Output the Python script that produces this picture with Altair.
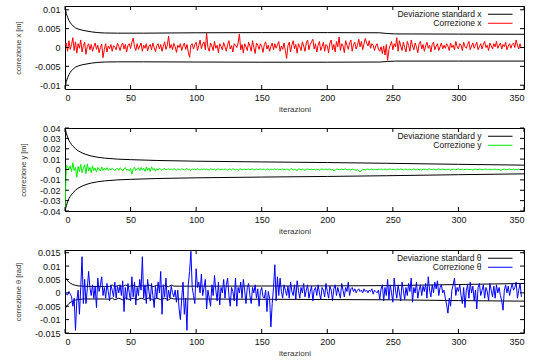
import altair as alt
import pandas as pd

# ---------------- data ----------------
iter_ticks = [0, 50, 100, 150, 200, 250, 300, 350]

# Panel 1: correction x, in mm, iterations 0..348
corr_x_mm = [
    0.5, 1.2, -1.0, 1.8, -0.5, 0.8, 2.6, -0.8, 1.5, -1.5,
    1.0, -0.2, 2.0, -1.2, 0.5, 1.4, -1.8, 0.3, 1.0, -0.6,
    0.8, -1.0, 0.2, 1.2, -0.5, 0.6, -1.4, 0.0, 0.9, -2.7,
    -0.5, 1.0, -1.2, 0.4, -0.3, 0.8, -1.0, 0.5, 0.2, -0.6,
    1.1, 0.3, -0.8, 0.6, 1.2, -0.4, 0.8, -1.2, 0.5, 1.0,
    -0.3, 1.4, 2.5, 0.2, -0.8, 1.0, -0.5, 0.4, 1.2, -1.0,
    0.6, -0.2, 1.0, -0.9, 0.3, 0.8, -0.6, 1.2, 0.0, -1.1,
    0.5, 1.0, -0.4, 0.8, -1.0, 0.4, 1.5, -0.5, 0.6, 3.0,
    -0.2, 0.8, -0.6, 1.1, 0.2, -1.3, 0.6, 0.0, 1.0, -0.8,
    0.4, 1.2, -0.5, 0.8, -1.2, -2.6, 0.6, 1.0, -0.4, 0.8,
    1.4, -0.8, 0.5, 2.0, -0.3, 0.9, 1.5, -0.6, 3.8, 0.0,
    -1.0, 1.2, 0.4, -0.8, 1.6, -0.2, 0.6, -1.4, 1.0, 0.3,
    -0.6, 1.3, 0.2, -1.0, 0.8, 1.8, -0.4, 0.5, -1.2, 1.0,
    0.6, 0.0, 1.2, 3.6, -0.6, 0.8, -1.5, 1.0, 0.2, -0.8,
    1.4, 0.4, -1.0, 1.8, 0.0, -1.6, 1.2, 0.6, -0.5, 1.0,
    0.2, -1.3, 0.8, 1.5, -0.4, 0.6, -1.0, 0.3, 1.2, -0.6,
    1.0, -0.2, 0.7, 1.6, -1.0, 0.4, -0.5, 1.2, -0.8, -2.9,
    0.5, 1.4, -1.2, 0.6, 1.8, -0.3, 0.8, -1.5, 1.0, 0.2,
    -0.8, 1.5, 0.4, -1.0, 1.2, 2.0, -0.6, 0.8, 1.5, 2.2,
    -0.4, 1.0, -1.2, 0.6, 1.6, -0.8, 0.2, 1.4, -1.0, 0.8,
    0.4, -1.4, 1.2, 2.0, -0.6, 0.8, -1.2, 1.6, 0.2, 2.8,
    -0.8, 1.0, 0.4, -1.4, 1.8, 0.6, -0.5, 1.2, 2.0, -1.0,
    0.8, 1.4, -0.4, 0.6, 2.2, 0.2, 1.6, -0.6, 1.0, 2.4,
    1.2, 0.4, 1.8, -0.2, 1.0, 0.6, -0.8, 0.4, 1.0, -0.4,
    -1.0, 0.2, -1.6, 0.4, -2.0, 0.8, -3.4, -0.5, 0.6, 1.6,
    -0.6, 1.0, 0.2, 2.6, -1.0, 1.8, 0.4, -0.8, 1.4, 0.0,
    -1.2, 1.6, 0.6, -1.0, 2.0, 0.4, -0.6, 1.2, 0.2, -1.4,
    1.0, 1.6, -0.4, 0.8, -1.0, 0.4, 1.4, -0.2, 0.6, -1.2,
    0.8, 1.4, -0.6, 0.4, 1.0, -0.8, 0.2, 1.2, -0.4, 0.6,
    -0.2, 1.0, 0.4, -0.8, 1.2, 0.0, 0.6, -0.6, 1.6, 0.2,
    -0.4, 1.0, 0.6, -0.8, 1.4, 0.2, -0.2, 0.8, 1.6, -0.6,
    0.4, 1.2, -0.2, 0.6, 1.4, -0.6, 0.2, 1.0, -0.4, 0.8,
    1.6, 0.0, 0.6, -0.8, 1.2, 0.4, -0.4, 1.0, 0.2, 1.6,
    -0.2, 0.6, 1.2, -0.4, 0.8, 0.2, 1.4, -0.6, 0.4, 1.0,
    -0.2, 0.8, 1.2, 0.0, 2.0, 0.6, -0.4, 1.0, -0.2,
]
std_x_iter = [0, 1, 2, 3, 4, 5, 6, 8, 10, 13, 16, 20, 25, 30, 40, 60, 100,
              150, 200, 240, 246, 252, 300, 350]
std_x_up_mm = [10.8, 9.0, 8.0, 7.2, 6.6, 6.1, 5.8, 5.2, 4.9, 4.6, 4.4, 4.15,
               3.95, 3.85, 3.8, 3.8, 3.9, 3.95, 3.95, 3.9, 3.7, 3.6, 3.55, 3.5]
std_x_lo_mm = [-10.8, -9.0, -8.0, -7.2, -6.6, -6.1, -5.8, -5.2, -4.9, -4.6,
               -4.4, -4.15, -3.95, -3.85, -3.8, -3.8, -3.85, -3.9, -3.9,
               -3.85, -3.7, -3.6, -3.6, -3.6]

# Panel 2: correction y, in mm
corr_y_mm = [
    -38.0, 4.0, 3.0, 0.0, 3.5, -2.0, 6.5, -1.0, 2.0, -7.5,
    3.0, -2.0, 5.0, -3.0, 1.0, 4.5, -4.0, 5.5, -1.5, 2.0,
    -3.0, 3.5, -1.0, 1.5, -2.5, 2.0, 0.5, -1.5, 2.5, -1.0,
    1.2, -0.6, 1.8, -1.0, 0.8, -0.4, 1.4, 0.2, -1.2, 0.6,
    1.0, -0.8, 1.6, 0.4, -1.6, 0.8, 1.8, -0.6, 0.4, -1.4,
    1.0, -4.5, 0.8, 2.2, -1.0, 0.6, 1.6, -1.2, 2.0, -0.6,
    1.2, -1.8, 2.4, -0.8, 1.4, -2.0, 2.6, -0.4, 1.0, -1.6,
    0.8, -0.6, 1.2, 0.2, -0.8, 0.6, 1.0, -0.4, 0.2, 0.8,
    -0.2, 0.6, -0.6, 1.0, 0.0, -0.8, 0.6, 0.2, -0.4, 0.8,
    0.2, -0.6, 0.4, 1.0, -0.4, 0.2, -1.0, 0.6, 0.0, 0.4,
    -0.4, 0.8, 0.2, -0.6, 0.4, 0.0, 0.6, -0.2, 0.4, 0.0,
    -0.4, 0.6, 0.2, -0.2, 0.4, -0.8, 0.2, 0.6, -0.2, 0.0,
    0.4, -0.2, 0.6, 0.0, -0.6, 0.2, 0.4, -0.4, 0.8, 0.0,
    -0.2, 0.4, -1.0, 0.2, 0.6, -0.4, 0.0, 0.4, -0.2, 0.2,
    0.6, -0.4, 0.2, 0.8, -0.6, 0.0, 0.4, -0.2, 0.2, 0.6,
    -0.2, 0.4, 0.0, -0.6, 0.6, 0.2, -0.4, 0.4, 0.0, 0.2,
    0.6, -0.2, 0.4, 0.0, 0.2, -0.4, 0.6, 0.2, -0.2, 0.4,
    0.0, -0.6, 0.4, 0.8, -0.4, 0.2, 0.0, -1.2, 0.6, 0.2,
    -0.4, 0.4, 0.0, -0.8, 0.2, 0.6, -0.2, 0.0, 0.4, -0.2,
    0.2, -0.4, 0.4, 0.0, -0.6, 0.2, 0.6, -0.2, 0.0, 0.4,
    -0.2, 0.2, 0.6, -0.4, 0.0, -1.6, -0.6, 0.2, 0.4, -0.2,
    0.0, 0.4, -0.2, 0.2, 0.6, -0.4, 0.0, 0.2, -0.6, 0.4,
    0.0, -0.4, -0.8, 0.2, -1.2, -2.4, -0.6, 0.2, 0.0, -0.4,
    0.2, 0.4, -0.2, 0.0, 0.6, -0.4, 0.2, 0.0, -0.2, 0.4,
    0.0, 0.6, -0.2, 0.2, 0.4, -0.4, 0.0, 0.2, 0.6, -0.2,
    0.2, 0.0, -0.4, 0.4, 0.2, -0.2, 0.6, 0.0, -0.6, 0.2,
    0.4, -0.2, 0.0, 0.4, -0.4, 0.2, 0.6, -0.2, 0.0, 0.4,
    -0.2, 0.2, -0.6, 0.4, 0.0, 0.2, -0.4, 0.4, 0.6, 0.0,
    -0.2, 0.4, 0.0, -0.4, 0.2, 0.6, 0.0, -0.2, 0.4, 0.2,
    -0.4, 0.2, 0.0, 0.4, -0.6, 0.2, 0.4, 0.0, -0.2, 0.2,
    0.6, -0.2, 0.0, 0.4, -0.4, 0.2, 0.0, 0.4, -0.2, 0.2,
    0.0, -0.6, 0.2, 0.4, 0.0, -0.2, 0.4, 0.2, -0.4, 0.0,
    0.2, 0.6, -0.2, 0.0, 0.4, -0.4, 0.2, 0.0, 0.4, -0.2,
    0.0, 0.2, -0.8, -0.4, 0.2, 0.4, 0.0, -0.2, 0.2, 0.6,
    -0.2, 0.0, 0.4, -0.4, 0.2, 0.0, 0.4, -0.2, 0.2,
]
std_y_iter = [0, 1, 2, 3, 4, 5, 6, 8, 10, 13, 16, 20, 25, 30, 40, 50, 70,
              100, 150, 200, 245, 300, 350]
std_y_up_mm = [40.0, 35.0, 31.0, 28.0, 26.0, 24.0, 22.5, 20.0, 18.0, 16.0,
               14.5, 13.0, 11.8, 11.0, 10.0, 9.5, 8.7, 8.0, 7.3, 6.7, 6.0,
               5.0, 4.2]
std_y_lo_mm = [-40.0, -35.0, -31.0, -28.0, -26.0, -24.0, -22.5, -20.0, -18.0,
               -16.0, -14.5, -13.0, -11.8, -11.0, -10.0, -9.5, -8.7, -8.0,
               -7.3, -6.7, -6.0, -5.0, -4.2]

# Panel 3: correction theta, in mrad
corr_t_mrad = [
    0.5, -0.5, -0.8, 0.5, -0.5, -1.5, -5.0, -2.0, -14.0, -3.0,
    1.0, -8.0, 2.0, 13.5, -4.0, 5.0, -4.0, 1.5, 8.0, 2.0,
    -1.0, 3.0, -2.0, 2.5, -5.5, 5.5, 0.5, 3.0, 6.0, -1.0,
    2.0, -2.0, 3.5, 0.5, -3.0, 3.0, 1.0, -1.5, 4.0, -2.0,
    2.5, 0.0, 3.0, -1.0, 4.5, -7.0, 2.0, -2.5, 3.5, 0.0,
    -3.0, 6.0, -1.5, 4.0, -4.5, 2.0, -1.0, 5.0, 1.0, 13.5,
    -2.0, 3.0, -4.0, 5.0, 0.5, -3.0, 3.5, -1.0, -5.5, 2.5,
    -2.0, 4.0, 0.0, 8.0, -8.0, 3.0, -1.5, 5.5, -3.0, 1.0,
    -2.0, 2.5, 0.0, -1.5, 1.0, -3.5, 1.0, -6.0, -10.0, -2.0,
    4.0, -8.0, -2.0, -14.0, 3.0, 8.0, 15.5, 2.0, -1.0, -4.0,
    9.0, 2.0, 4.0, 0.0, 7.0, -1.0, 2.0, 5.0, -6.0, 1.0,
    -2.0, -5.0, 3.0, -1.0, 6.5, 1.0, -3.0, 4.0, -4.5, 2.0,
    0.0, 5.0, -2.0, 3.0, 5.5, -1.0, -5.0, 2.0, 0.5, -3.0,
    5.5, -5.0, 2.0, 0.0, 4.0, -2.0, 5.0, 1.0, -4.0, 2.0,
    3.5, -1.0, -4.0, 2.0, 0.0, 3.0, -2.0, 1.5, -5.0, 0.5,
    2.0, -1.5, -2.0, 1.0, -7.0, 0.5, -2.0, -12.7, -4.0, 2.0,
    10.5, -3.0, 6.0, -1.0, 5.5, 0.5, -2.0, 3.0, 1.0, -1.0,
    2.5, -2.0, 4.0, 0.5, -1.0, 3.0, -2.5, 4.5, 1.0, -2.0,
    2.0, 0.0, 3.5, -1.5, 1.0, 3.0, -2.0, 0.5, 2.5, -3.0,
    1.0, 2.0, -1.0, 3.0, 0.0, -2.5, 2.0, 1.0, -1.5, 3.5,
    0.5, -2.0, 2.5, 1.0, -3.0, 1.5, 3.0, -1.0, 2.0, 0.0,
    -2.0, 3.5, 1.0, -1.5, 2.0, 0.5, 4.0, -1.0, 1.5, 2.0,
    0.5, 1.5, 0.0, 1.0, 1.5, 0.5, 1.0, 0.0, 1.5, 0.5,
    1.0, 0.0, 1.0, 0.5, 1.5, -0.5, 1.0, 0.5, 0.0, 1.0,
    -2.5, 1.5, 3.0, -3.0, 2.0, -1.0, 5.0, -2.5, 3.0, 0.0,
    -3.5, 5.5, 1.0, -2.0, 3.0, 0.0, -3.0, 4.0, 1.0, -2.5,
    2.0, -1.0, 3.5, 0.5, 5.5, -3.5, 2.0, 0.0, 4.0, -2.0,
    1.0, 3.0, -1.0, 2.5, 0.5, 3.5, -2.0, 6.0, 1.0, -1.5,
    3.0, 0.0, 4.0, 1.5, 4.5, -1.0, 2.0, 3.0, 0.0, 1.0,
    -2.0, -4.5, -7.6, -2.0, -5.0, 1.0, 3.0, 5.5, -1.0, 2.0,
    0.5, 3.0, -1.0, -4.0, 2.0, -5.5, 1.0, 3.0, -2.0, 4.0,
    0.0, 2.5, -3.0, 1.0, -6.0, 2.0, 3.5, -1.0, 1.0, 3.0,
    -2.0, 2.0, 0.5, -3.0, 3.5, 1.0, -1.5, 2.5, -2.0, 3.0,
    0.0, 2.0, -1.0, -3.0, -6.5, 1.0, 3.0, 0.0, 2.5, -1.0,
    1.5, 3.5, 1.0, 2.0, 4.0, -2.0, 1.0, 3.5, -1.5,
]
std_t_iter = [0, 1, 2, 3, 4, 6, 8, 10, 14, 20, 30, 34, 36, 38, 41, 44, 46,
              49, 52, 55, 58, 61, 64, 67, 70, 73, 76, 79, 81, 83, 100, 150,
              200, 248, 300, 350]
std_t_up_mrad = [6.0, 5.2, 4.5, 4.0, 3.6, 3.1, 2.8, 2.6, 2.5, 2.4, 2.4, 2.4,
                 2.9, 2.3, 2.8, 2.3, 2.9, 2.4, 2.8, 2.3, 2.7, 2.4, 2.9, 2.3,
                 2.8, 2.4, 2.7, 2.3, 2.9, 2.5, 2.5, 2.55, 2.6, 2.7, 3.1, 3.5]
std_t_lo_mrad = [-6.0, -5.2, -4.5, -4.0, -3.6, -3.1, -2.7, -2.5, -2.3, -2.3,
                 -2.3, -2.4, -1.9, -2.6, -2.0, -2.6, -1.9, -2.5, -2.0, -2.6,
                 -2.0, -2.5, -1.9, -2.6, -2.0, -2.5, -2.0, -2.6, -2.0, -2.3,
                 -2.3, -2.4, -2.5, -2.6, -2.9, -3.1]

yt_x = [-0.01, -0.005, 0, 0.005, 0.01]
yt_y = [-0.04, -0.03, -0.02, -0.01, 0, 0.01, 0.02, 0.03, 0.04]
yt_t = [-0.015, -0.01, -0.005, 0, 0.005, 0.01, 0.015]

W, H = 459, 83
FONT = "Liberation Sans"
TICK = 4


def panel(corr, s_iter, s_up, s_lo, names, col, ydom, yvals, ytitle):
    corr_df = pd.DataFrame({
        "iter": list(range(len(corr))),
        "val": [v / 1000.0 for v in corr],
        "serie": names[1], "part": "c"})
    std_df = pd.DataFrame({
        "iter": s_iter + s_iter,
        "val": [v / 1000.0 for v in s_up] + [v / 1000.0 for v in s_lo],
        "serie": names[0],
        "part": ["up"] * len(s_iter) + ["lo"] * len(s_iter)})

    xaxis = alt.Axis(values=iter_ticks, ticks=False, domain=False, grid=False,
                     labelFontSize=9, labelFont=FONT, labelColor="#111",
                     labelPadding=4, title="iterazioni", titleFontSize=8,
                     titleFont=FONT, titleFontWeight="normal",
                     titleColor="#333", titlePadding=3)
    yaxis = alt.Axis(values=yvals, labelExpr="'' + datum.value", ticks=False,
                     domain=False, grid=False, labelFontSize=9, labelFont=FONT,
                     labelColor="#111", labelPadding=5, title=ytitle,
                     titleFontSize=7.5, titleFont=FONT,
                     titleFontWeight="normal", titleColor="#333",
                     titlePadding=12)
    xs = alt.Scale(domain=[0, 350], nice=False, zero=False)
    ys = alt.Scale(domain=ydom, nice=False, zero=False)

    def X(f="iter"):
        return alt.X(f + ":Q", scale=xs, axis=xaxis)

    def Y(f="val"):
        return alt.Y(f + ":Q", scale=ys, axis=yaxis)

    color = alt.Color(
        "serie:N",
        scale=alt.Scale(domain=names, range=["#000000", col]),
        legend=alt.Legend(orient="none", legendX=431, legendY=4, title=None,
                          symbolType="M-3.5,0H3.5", symbolSize=49,
                          symbolStrokeWidth=1, symbolFillColor="transparent",
                          labelAlign="right", labelOffset={"expr": "-23"},
                          labelFontSize=8.5, labelFont=FONT,
                          labelColor="#111", labelLimit=300, rowPadding=0,
                          padding=0))

    std_l = alt.Chart(std_df).mark_line(strokeWidth=1, clip=True).encode(
        x=X(), y=Y(), color=color, detail="part:N")
    corr_l = alt.Chart(corr_df).mark_line(strokeWidth=1, clip=True).encode(
        x=X(), y=Y(), color=color)

    xt = pd.DataFrame({"iter": iter_ticks})
    yt = pd.DataFrame({"val": yvals})
    tb = alt.Chart(xt).mark_rule(color="black", strokeWidth=1).encode(
        x=X(), y=alt.value(H - TICK), y2=alt.value(H))
    tt = alt.Chart(xt).mark_rule(color="black", strokeWidth=1).encode(
        x=X(), y=alt.value(0), y2=alt.value(TICK))
    tl = alt.Chart(yt).mark_rule(color="black", strokeWidth=1).encode(
        y=Y(), x=alt.value(0), x2=alt.value(TICK))
    tr = alt.Chart(yt).mark_rule(color="black", strokeWidth=1).encode(
        y=Y(), x=alt.value(W - TICK), x2=alt.value(W))

    return alt.layer(std_l, corr_l, tb, tt, tl, tr).properties(width=W, height=H)


p1 = panel(corr_x_mm, std_x_iter, std_x_up_mm, std_x_lo_mm,
           ["Deviazione standard x", "Correzione x"], "#ff0000",
           [-0.011, 0.011], yt_x, "correzione x [m]")
p2 = panel(corr_y_mm, std_y_iter, std_y_up_mm, std_y_lo_mm,
           ["Deviazione standard y", "Correzione y"], "#00ee00",
           [-0.04, 0.04], yt_y, "correzione y [m]")
p3 = panel(corr_t_mrad, std_t_iter, std_t_up_mrad, std_t_lo_mrad,
           ["Deviazione standard θ", "Correzione θ"], "#0000ff",
           [-0.015, 0.016], yt_t, "correzione θ [rad]")

chart = alt.vconcat(p1, p2, p3, spacing=39, bounds="flush").resolve_scale(
    color="independent").properties(
    padding={"left": 13, "top": 5, "right": 5, "bottom": 0},
    background="white").configure_view(stroke="black", strokeWidth=1)

chart.save("out.html", embed_options={"renderer": "svg", "actions": False})
